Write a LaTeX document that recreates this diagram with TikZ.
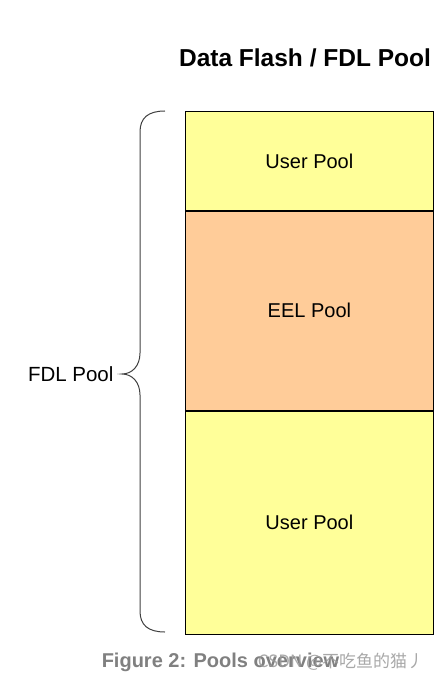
\documentclass[tikz,border=0pt]{standalone}
\usepackage{fontspec}
\setmainfont{Liberation Sans}
\newfontfamily\cjkfont{Noto Sans CJK SC}
\usepackage{xcolor}
\usetikzlibrary{positioning,calc}

\definecolor{userpool}{HTML}{FFFF99}
\definecolor{eelpool}{HTML}{FFCC99}
\definecolor{captiongray}{HTML}{808080}

\begin{document}
\begin{tikzpicture}[
    x=1pt, y=-1pt,
    node distance=0pt,
    pool/.style={rectangle, draw=black, line width=0.8pt, minimum width=248pt, inner sep=0pt, font=\fontsize{20}{24}\selectfont},
    bracket/.style={draw=black!75, line width=1pt},
    caption/.style={font=\fontsize{20}{24}\selectfont\bfseries, text=captiongray}
]
\useasboundingbox (0,0) rectangle (446,684);

\node[font=\fontsize{24.5}{29}\selectfont\bfseries] (title) at (305,58) {Data Flash / FDL Pool};

\node[pool, fill=userpool, minimum height=99pt, anchor=north west] (user1) at (185,111) {User Pool};
\node[pool, fill=eelpool, minimum height=199pt, below=of user1] (eel) {EEL Pool};
\node[pool, fill=userpool, minimum height=223pt, below=of eel] (user2) {User Pool};

% curly bracket on the left side
\coordinate (tip) at (122,374);
\draw[bracket] (165,111) .. controls (148,111) and (140,118) .. (140,132)
    -- (140,353) .. controls (140,366) and (132,374) .. (tip)
    .. controls (132,374) and (140,382) .. (140,395)
    -- (140,611) .. controls (140,625) and (148,632) .. (165,632);
\node[left=5pt of tip, font=\fontsize{20.5}{24}\selectfont] (fdl) {FDL Pool};

\node[caption] (cap) at (220.5,662) {Figure 2: Pools overview};
\node[font=\fontsize{17}{20}\selectfont\cjkfont, text=gray!80, opacity=0.85] (mark) at (341,662) {CSDN @不吃鱼的猫丿};

\end{tikzpicture}
\end{document}
